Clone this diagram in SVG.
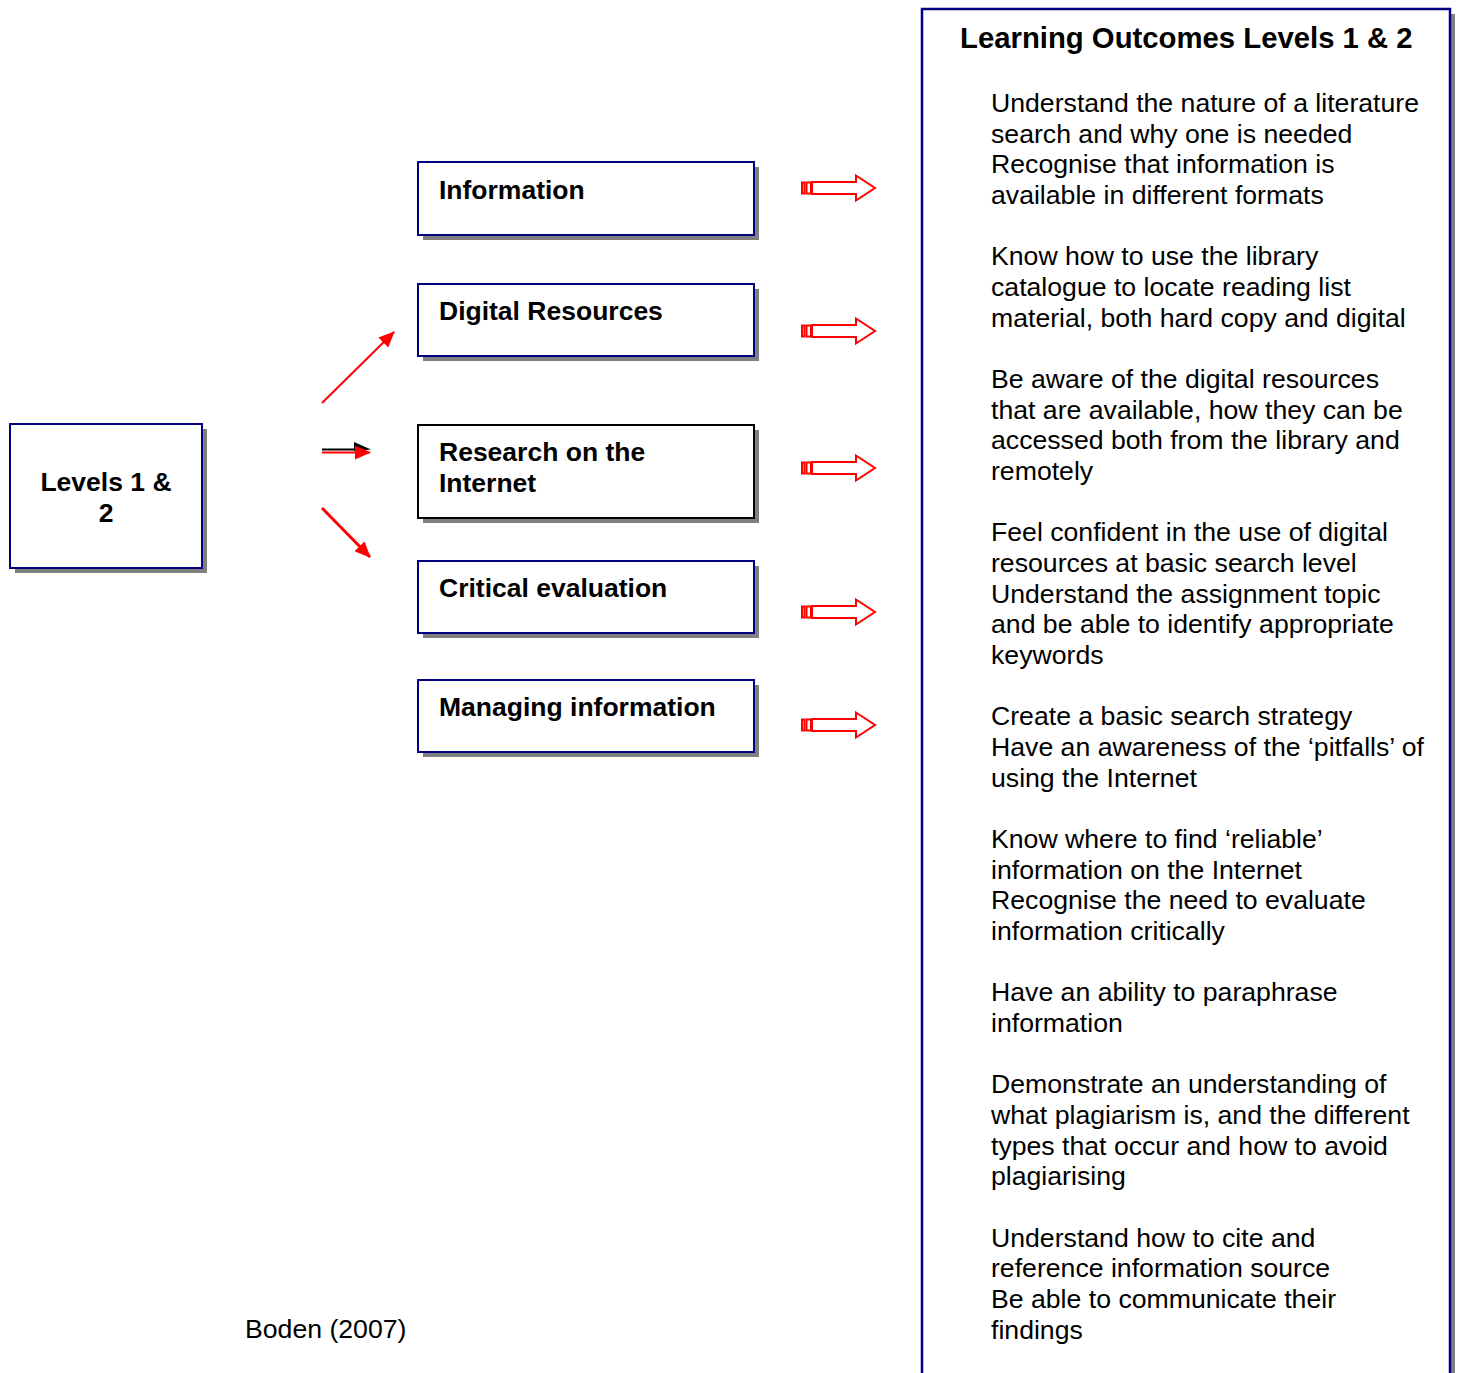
<svg xmlns="http://www.w3.org/2000/svg" width="1458" height="1373" viewBox="0 0 1458 1373">
<style>
.shadow{fill:#808080}
.box{fill:#fff;stroke:#000080;stroke-width:2}
.boxk{fill:#fff;stroke:#000;stroke-width:2}
.lbl{font-family:"Liberation Sans",Arial,sans-serif;font-weight:bold;font-size:26.5px;fill:#000}
.body{font-family:"Liberation Sans",Arial,sans-serif;font-size:26.65px;fill:#000}
.blk{fill:#fff;stroke:#f00;stroke-width:2}
</style>
<defs>
<marker id="ah" markerWidth="16" markerHeight="14" refX="15" refY="7" orient="auto" markerUnits="userSpaceOnUse" viewBox="0 0 16 14">
<path d="M0,0 L16,7 L0,14 z" fill="#f00"/>
</marker>
<g id="blockarrow">
<rect x="802" y="-5.5" width="2.5" height="11" class="blk" stroke-width="1.5"/>
<rect x="806.5" y="-5.5" width="4.5" height="11" class="blk" stroke-width="1.5"/>
<path d="M812,-6 L856,-6 L856,-12.5 L875,0 L856,12.5 L856,6 L812,6 z" class="blk"/>
</g>
</defs>

<g id="levels">
<rect x="15" y="429" width="192" height="144" class="shadow"/>
<rect x="10" y="424" width="192" height="144" class="box"/>
<text class="lbl" text-anchor="middle"><tspan x="106" y="491">Levels 1 &amp;</tspan><tspan x="106" y="522">2</tspan></text>
</g>

<g id="information">
<rect x="423" y="167" width="336" height="73" class="shadow"/>
<rect x="418" y="162" width="336" height="73" class="box"/>
<text class="lbl" x="439" y="199">Information</text>
</g>

<g id="digital">
<rect x="423" y="289" width="336" height="72" class="shadow"/>
<rect x="418" y="284" width="336" height="72" class="box"/>
<text class="lbl" x="439" y="320">Digital Resources</text>
</g>

<g id="research">
<rect x="423" y="430" width="336" height="93" class="shadow"/>
<rect x="418" y="425" width="336" height="93" class="boxk"/>
<text class="lbl"><tspan x="439" y="461">Research on the</tspan><tspan x="439" y="492">Internet</tspan></text>
</g>

<g id="critical">
<rect x="423" y="566" width="336" height="72" class="shadow"/>
<rect x="418" y="561" width="336" height="72" class="box"/>
<text class="lbl" x="439" y="597">Critical evaluation</text>
</g>

<g id="managing">
<rect x="423" y="685" width="336" height="72" class="shadow"/>
<rect x="418" y="680" width="336" height="72" class="box"/>
<text class="lbl" x="439" y="716">Managing information</text>
</g>

<g id="outcomes">
<rect x="927" y="14" width="528" height="1370" class="shadow"/>
<rect x="922" y="9" width="528" height="1370" fill="#fff" stroke="#000080" stroke-width="2.5"/>
<text x="960" y="48" font-family="Liberation Sans, Arial, sans-serif" font-weight="bold" font-size="29.3">Learning Outcomes Levels 1 &amp; 2</text>
<text class="body">
<tspan x="991" y="112">Understand the nature of a literature</tspan>
<tspan x="991" y="142.7">search and why one is needed</tspan>
<tspan x="991" y="173.3">Recognise that information is</tspan>
<tspan x="991" y="204">available in different formats</tspan>
<tspan x="991" y="265.4">Know how to use the library</tspan>
<tspan x="991" y="296">catalogue to locate reading list</tspan>
<tspan x="991" y="326.7">material, both hard copy and digital</tspan>
<tspan x="991" y="388">Be aware of the digital resources</tspan>
<tspan x="991" y="418.7">that are available, how they can be</tspan>
<tspan x="991" y="449.4">accessed both from the library and</tspan>
<tspan x="991" y="480">remotely</tspan>
<tspan x="991" y="541.4">Feel confident in the use of digital</tspan>
<tspan x="991" y="572">resources at basic search level</tspan>
<tspan x="991" y="602.7">Understand the assignment topic</tspan>
<tspan x="991" y="633.4">and be able to identify appropriate</tspan>
<tspan x="991" y="664">keywords</tspan>
<tspan x="991" y="725.4">Create a basic search strategy</tspan>
<tspan x="991" y="756">Have an awareness of the ‘pitfalls’ of</tspan>
<tspan x="991" y="786.7">using the Internet</tspan>
<tspan x="991" y="848">Know where to find ‘reliable’</tspan>
<tspan x="991" y="878.7">information on the Internet</tspan>
<tspan x="991" y="909.4">Recognise the need to evaluate</tspan>
<tspan x="991" y="940">information critically</tspan>
<tspan x="991" y="1001.4">Have an ability to paraphrase</tspan>
<tspan x="991" y="1032">information</tspan>
<tspan x="991" y="1093.4">Demonstrate an understanding of</tspan>
<tspan x="991" y="1124">what plagiarism is, and the different</tspan>
<tspan x="991" y="1154.7">types that occur and how to avoid</tspan>
<tspan x="991" y="1185.4">plagiarising</tspan>
<tspan x="991" y="1246.7">Understand how to cite and</tspan>
<tspan x="991" y="1277.4">reference information source</tspan>
<tspan x="991" y="1308">Be able to communicate their</tspan>
<tspan x="991" y="1338.7">findings</tspan>
</text>
</g>

<g id="connectors">
<line x1="322" y1="403" x2="394" y2="332" stroke="#f00" stroke-width="2" marker-end="url(#ah)"/>
<line x1="322" y1="449.5" x2="360" y2="449.5" stroke="#000" stroke-width="2"/>
<path d="M354,442 L371,449.5 L354,451 z" fill="#000"/>
<line x1="322" y1="452.5" x2="370" y2="452.5" stroke="#f00" stroke-width="2" marker-end="url(#ah)"/>
<line x1="322" y1="508" x2="370" y2="557" stroke="#f00" stroke-width="3" marker-end="url(#ah)"/>
<use href="#blockarrow" y="188"/>
<use href="#blockarrow" y="331"/>
<use href="#blockarrow" y="468"/>
<use href="#blockarrow" y="612"/>
<use href="#blockarrow" y="725"/>
</g>

<text class="body" x="245" y="1338">Boden (2007)</text>
</svg>
